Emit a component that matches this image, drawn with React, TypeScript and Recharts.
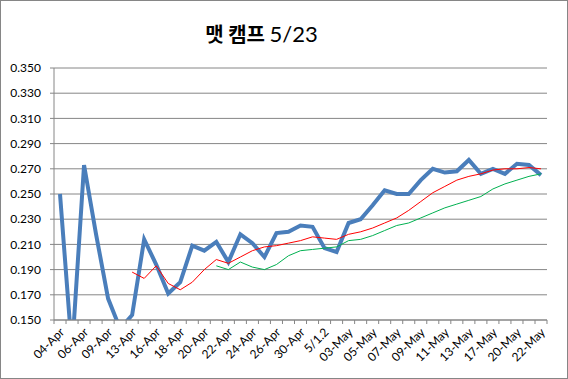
import React from "react";
import { LineChart, Line, XAxis, YAxis, CartesianGrid } from "recharts";

// category labels (only every other one is printed on the axis)
const dates = [
  "04-Apr", "05-Apr", "06-Apr", "07-Apr", "09-Apr", "10-Apr", "13-Apr", "14-Apr",
  "16-Apr", "17-Apr", "18-Apr", "19-Apr", "20-Apr", "21-Apr", "22-Apr", "23-Apr",
  "24-Apr", "25-Apr", "26-Apr", "27-Apr", "30-Apr", "5/1.1", "5/1.2", "02-May",
  "03-May", "04-May", "05-May", "06-May", "07-May", "08-May", "09-May", "10-May",
  "11-May", "12-May", "13-May", "15-May", "17-May", "18-May", "20-May", "21-May",
  "22-May",
];

// daily average (thick blue)
const avgDaily = [
  0.250, 0.125, 0.273, 0.218, 0.167, 0.143, 0.154, 0.214, 0.194, 0.171,
  0.180, 0.209, 0.205, 0.212, 0.196, 0.218, 0.211, 0.200, 0.219, 0.220,
  0.225, 0.224, 0.207, 0.204, 0.227, 0.230, 0.241, 0.253, 0.250, 0.250,
  0.261, 0.270, 0.267, 0.268, 0.277, 0.266, 0.270, 0.266, 0.274, 0.273,
  0.265,
];

// red moving line
const avgRed: (number | null)[] = [
  null, null, null, null, null, null,
  0.188, 0.183, 0.193, 0.179, 0.174, 0.180, 0.190, 0.198, 0.195, 0.200,
  0.205, 0.208, 0.209, 0.211, 0.213, 0.216, 0.215, 0.214, 0.218, 0.220,
  0.223, 0.227, 0.231, 0.237, 0.244, 0.251, 0.256, 0.261, 0.264, 0.266,
  0.269, 0.270, 0.270, 0.271, 0.270,
];

// green moving line
const avgGreen: (number | null)[] = [
  null, null, null, null, null, null, null, null, null, null, null, null, null,
  0.193, 0.190, 0.196, 0.192, 0.190, 0.194, 0.201, 0.205, 0.206, 0.207,
  0.208, 0.213, 0.214, 0.217, 0.221, 0.225, 0.227, 0.231, 0.235, 0.239,
  0.242, 0.245, 0.248, 0.254, 0.258, 0.261, 0.264, 0.266,
];

const yTicks = [0.15, 0.17, 0.19, 0.21, 0.23, 0.25, 0.27, 0.29, 0.31, 0.33, 0.35];

const data = dates.map((d, i) => ({
  d,
  blue: avgDaily[i],
  red: avgRed[i],
  green: avgGreen[i],
}));

const GRAY = "#868686";
const FONT = "Lato, 'Liberation Sans', sans-serif";
const HALF_BAND = 6;

const XTick = (props: any) => {
  const { x, y, payload, index } = props;
  const last = index === dates.length - 1;
  return (
    <g>
      <line x1={x - HALF_BAND} x2={x - HALF_BAND} y1={y} y2={y + 4} stroke={GRAY} />
      {last && <line x1={x + HALF_BAND} x2={x + HALF_BAND} y1={y} y2={y + 4} stroke={GRAY} />}
      {index % 2 === 0 && (
        <text
          x={x + 5}
          y={y + 13}
          textAnchor="end"
          fontSize={12}
          fontFamily={FONT}
          fill="#000"
          transform={`rotate(-45, ${x + 5}, ${y + 13})`}
        >
          {payload.value}
        </text>
      )}
    </g>
  );
};

export default function App() {
  return (
    <div
      style={{
        position: "absolute",
        left: 0,
        top: 0,
        width: 568,
        height: 379,
        background: "#fff",
      }}
    >
      <div
        style={{
          position: "absolute",
          left: 0,
          top: 0,
          width: 566,
          height: 377,
          border: `1px solid ${GRAY}`,
        }}
      />
      <div
        style={{
          position: "absolute",
          left: 0,
          top: 22,
          width: 523,
          textAlign: "center",
          fontSize: 20,
          lineHeight: "24px",
          fontWeight: "bold",
          fontFamily: "'Noto Sans CJK KR', Lato, sans-serif",
        }}
      >
        맷 캠프 <span style={{ fontFamily: FONT, fontWeight: "normal", fontSize: 22 }}>5/23</span>
      </div>
      <LineChart
        width={568}
        height={379}
        data={data}
        margin={{ top: 68, right: 21, left: 0, bottom: 9 }}
      >
        <CartesianGrid vertical={false} stroke={GRAY} strokeWidth={1} />
        <XAxis
          dataKey="d"
          interval={0}
          padding={{ left: HALF_BAND, right: HALF_BAND }}
          stroke={GRAY}
          tickLine={false}
          tickSize={0}
          tickMargin={0}
          height={50}
          tick={<XTick />}
        />
        <YAxis
          domain={[0.15, 0.35]}
          ticks={yTicks}
          allowDataOverflow
          width={54}
          stroke={GRAY}
          tickSize={4}
          tickMargin={9}
          tick={{ fill: "#000", fontSize: 12, fontFamily: FONT }}
          tickFormatter={(v: number) => v.toFixed(3)}
        />
        <Line
          dataKey="blue"
          stroke="#4a7ebb"
          strokeWidth={4}
          dot={false}
          isAnimationActive={false}
        />
        <Line
          dataKey="red"
          stroke="#ff0000"
          strokeWidth={1}
          dot={false}
          isAnimationActive={false}
        />
        <Line
          dataKey="green"
          stroke="#00b050"
          strokeWidth={1}
          dot={false}
          isAnimationActive={false}
        />
      </LineChart>
    </div>
  );
}
